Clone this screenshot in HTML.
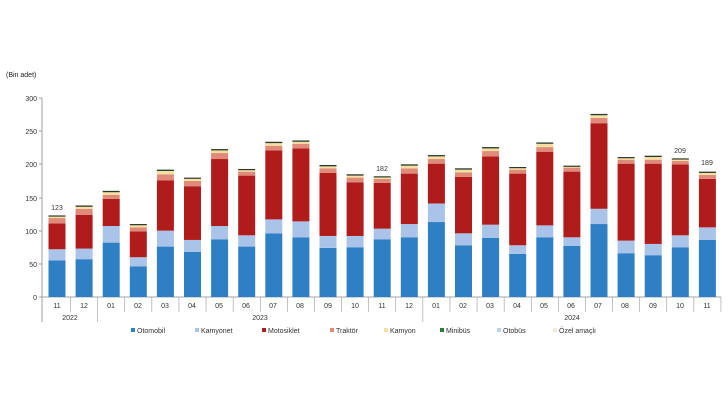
<!DOCTYPE html>
<html><head><meta charset="utf-8"><style>
body{margin:0;background:#fff;width:728px;height:410px;overflow:hidden}
svg{font-family:"Liberation Sans",sans-serif}
</style></head><body>
<svg id="s" width="728" height="410" viewBox="0 0 728 410">
<text x="6" y="77" font-size="7" fill="#222">(Bin adet)</text>
<g font-size="7" fill="#333" text-anchor="end">
<text x="37" y="300">0</text><text x="37" y="267">50</text>
<text x="37" y="234">100</text><text x="37" y="201">150</text>
<text x="37" y="167">200</text><text x="37" y="134">250</text>
<text x="37" y="101">300</text>
</g>
<g stroke="#888" stroke-width="0.8">
<line x1="39" y1="297" x2="42" y2="297"/><line x1="39" y1="264" x2="42" y2="264"/><line x1="39" y1="231" x2="42" y2="231"/><line x1="39" y1="198" x2="42" y2="198"/><line x1="39" y1="164" x2="42" y2="164"/><line x1="39" y1="131" x2="42" y2="131"/><line x1="39" y1="98" x2="42" y2="98"/>
</g>
<g font-size="7" fill="#333" text-anchor="middle">
<text x="57" y="308">11</text><text x="84" y="308">12</text><text x="111" y="308">01</text><text x="138" y="308">02</text><text x="165" y="308">03</text><text x="192" y="308">04</text><text x="219" y="308">05</text><text x="246" y="308">06</text><text x="273" y="308">07</text><text x="300" y="308">08</text><text x="328" y="308">09</text><text x="355" y="308">10</text><text x="382" y="308">11</text><text x="409" y="308">12</text><text x="436" y="308">01</text><text x="463" y="308">02</text><text x="490" y="308">03</text><text x="517" y="308">04</text><text x="544" y="308">05</text><text x="571" y="308">06</text><text x="598" y="308">07</text><text x="625" y="308">08</text><text x="653" y="308">09</text><text x="680" y="308">10</text><text x="707" y="308">11</text>
<text x="70" y="320">2022</text><text x="260" y="320">2023</text><text x="572" y="320">2024</text>
<text x="57" y="210">123</text><text x="382" y="171">182</text><text x="680" y="153">209</text><text x="707" y="165">189</text>
</g>
<g font-size="7" fill="#333">
<rect x="131" y="328" width="4" height="4" fill="#2e7fc4"/><text x="137" y="333">Otomobil</text>
<rect x="195" y="328" width="4" height="4" fill="#a9c4e8"/><text x="201" y="333">Kamyonet</text>
<rect x="262" y="328" width="4" height="4" fill="#b01c1c"/><text x="268" y="333">Motosiklet</text>
<rect x="330" y="328" width="4" height="4" fill="#e08a7a"/><text x="336" y="333">Traktör</text>
<rect x="384" y="328" width="4" height="4" fill="#f5dfa0"/><text x="390" y="333">Kamyon</text>
<rect x="440" y="328" width="4" height="4" fill="#2d7a3a"/><text x="446" y="333">Minibüs</text>
<rect x="497" y="328" width="4" height="4" fill="#bcd3ea"/><text x="503" y="333">Otobüs</text>
<rect x="553" y="328" width="4" height="4" fill="#f3ecd6"/><text x="559" y="333">Özel amaçlı</text>
</g>
<line x1="42" y1="98" x2="42" y2="322" stroke="#888" stroke-width="0.8"/>
<line x1="42" y1="297" x2="721" y2="297" stroke="#888" stroke-width="0.8"/>
<g id="b"></g>
</svg>
<script>
var d=[[55,72,111,119,122,123],[57,73,124,133,136,138],[82,107,148,154,158,160],[46,60,99,105,109,110],[76,100,176,185,190,192],[68,86,167,175,179,180],[87,107,208,217,221,223],[76,93,183,189,192,193],[96,117,221,228,232,234],[90,114,224,231,234,236],[74,92,187,194,197,199],[75,92,173,180,183,185],[87,103,172,178,181,182],[90,110,186,194,198,200],[113,141,201,208,212,214],[78,96,181,188,192,194],[89,109,212,220,224,226],[65,78,186,192,195,196],[90,108,219,226,231,233],[77,90,189,195,197,198],[110,133,262,270,274,276],[66,85,201,207,210,211],[63,80,201,207,211,213],[75,93,200,205,208,209],[86,105,178,184,187,189]];
var c=["#2e7fc4","#a9c4e8","#b01c1c","#e08a7a","#f5dfa0","#2a3a2a"];
var k=199/300,h='';
d.forEach(function(r,i){var cx=57+i*27.1,p=0;r.forEach(function(v,j){var y0=297-p*k,y1=297-v*k;
h+='<rect x="'+(cx-8.5)+'" y="'+y1+'" width="17" height="'+Math.max(y0-y1,1.2)+'" fill="'+c[j]+'"/>';p=v;});
var tx=cx+13.55;var yb=(i==1||i==13)?322:312;h+='<line x1="'+tx+'" y1="297" x2="'+tx+'" y2="'+yb+'" stroke="#999" stroke-width="0.6"/>';});
document.getElementById('b').innerHTML=h;
</script>
</body></html>
